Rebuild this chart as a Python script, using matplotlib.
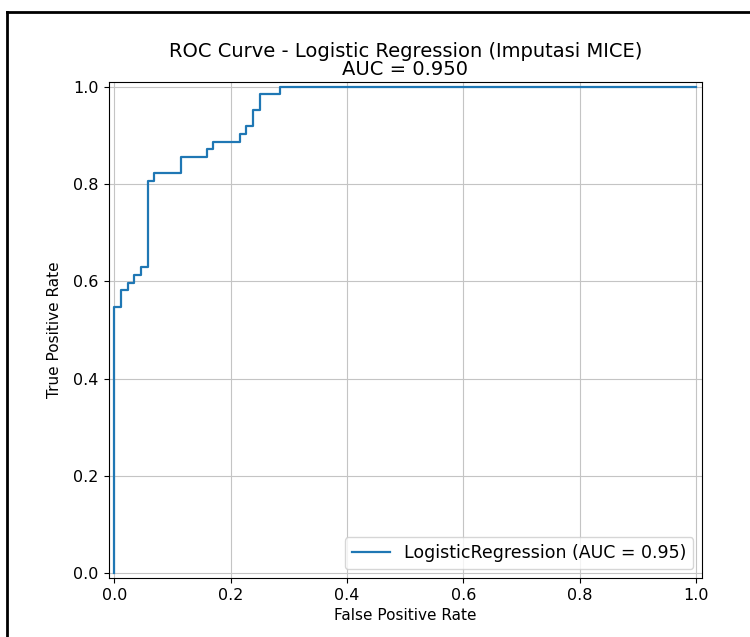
import matplotlib
matplotlib.use("Agg")
import matplotlib.pyplot as plt
from matplotlib.lines import Line2D

# ROC curve points (88 negatives, 62 positives)
fpr = [0.0, 0.0, 0.011, 0.011, 0.023, 0.023, 0.034, 0.034, 0.045, 0.045,
       0.057, 0.057, 0.068, 0.068, 0.114, 0.114, 0.159, 0.159, 0.170, 0.170,
       0.216, 0.216, 0.227, 0.227, 0.239, 0.239, 0.250, 0.250, 0.284, 0.284, 1.0]
tpr = [0.0, 0.548, 0.548, 0.581, 0.581, 0.597, 0.597, 0.613, 0.613, 0.629,
       0.629, 0.806, 0.806, 0.823, 0.823, 0.855, 0.855, 0.871, 0.871, 0.887,
       0.887, 0.903, 0.903, 0.919, 0.919, 0.952, 0.952, 0.984, 0.984, 1.0, 1.0]
auc_title = 0.950
auc_legend = 0.95
ticks = [0.0, 0.2, 0.4, 0.6, 0.8, 1.0]

fig = plt.figure(figsize=(7.5, 6.37), dpi=100)
ax = fig.add_axes([0.1447, 0.0926, 0.7913, 0.779])

ax.plot(fpr, tpr, color="#1f77b4", linewidth=1.6,
        label=f"LogisticRegression (AUC = {auc_legend:.2f})")
ax.set_xlim(-0.01, 1.01)
ax.set_ylim(-0.01, 1.01)
ax.set_xticks(ticks)
ax.set_yticks(ticks)
ax.tick_params(labelsize=11.5)
ax.grid(True, color="#c4c4c4")
ax.set_xlabel("False Positive Rate", fontsize=11)
ax.set_ylabel("True Positive Rate", fontsize=11, labelpad=8)
ax.set_title(f"ROC Curve - Logistic Regression (Imputasi MICE)\nAUC = {auc_title:.3f}",
             fontsize=14, linespacing=0.95, pad=5)
ax.legend(loc="lower right", fontsize=12.5, handlelength=2.2)

# frame of the screenshot (only top and left edges visible)
fig.add_artist(Line2D([7 / 750, 7 / 750], [0, 1 - 12 / 637], transform=fig.transFigure,
                      color="black", linewidth=2))
fig.add_artist(Line2D([7 / 750, 1], [1 - 12 / 637, 1 - 12 / 637], transform=fig.transFigure,
                      color="black", linewidth=2))

fig.savefig("out.png", dpi=100)
